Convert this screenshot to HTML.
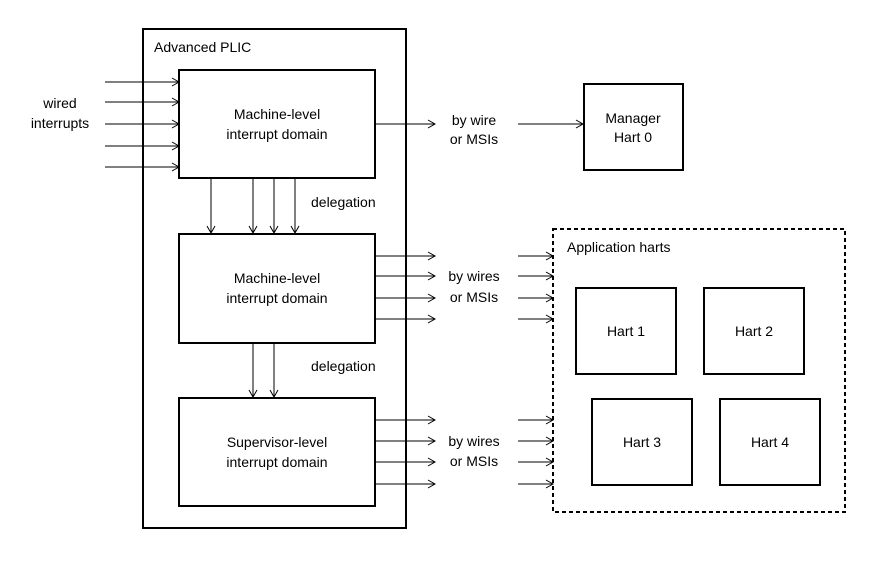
<!DOCTYPE html>
<html><head><style>body{margin:0;background:#fff}</style></head><body>
<svg width="872" height="558" viewBox="0 0 872 558" xmlns="http://www.w3.org/2000/svg" font-family="Liberation Sans, sans-serif" font-size="14">
<defs><marker id="a" markerWidth="10" markerHeight="10" refX="8" refY="5" orient="auto" markerUnits="userSpaceOnUse"><path d="M1,1 L8,5 L1,9" fill="none" stroke="#000" stroke-width="1"/></marker></defs>
<g fill="none" stroke="#000" stroke-width="2">
<rect x="143" y="29" width="263" height="499"/>
<rect x="179" y="70" width="196" height="108"/>
<rect x="179" y="234" width="196" height="109"/>
<rect x="179" y="398" width="196" height="108"/>
<rect x="584" y="84" width="99" height="86"/>
<rect x="576" y="288" width="100" height="86"/>
<rect x="704" y="288" width="100" height="86"/>
<rect x="592" y="399" width="100" height="86"/>
<rect x="720" y="399" width="100" height="86"/>
<rect x="553" y="229" width="292" height="283" stroke-dasharray="4,3"/>
</g>
<g stroke="#000" stroke-width="1" marker-end="url(#a)">
<line x1="105" y1="82" x2="179" y2="82"/><line x1="105" y1="102" x2="179" y2="102"/><line x1="105" y1="124" x2="179" y2="124"/><line x1="105" y1="146" x2="179" y2="146"/><line x1="105" y1="167" x2="179" y2="167"/>
<line x1="211" y1="178" x2="211" y2="233"/><line x1="253" y1="178" x2="253" y2="233"/><line x1="274" y1="178" x2="274" y2="233"/><line x1="295" y1="178" x2="295" y2="233"/>
<line x1="253" y1="343" x2="253" y2="397"/><line x1="274" y1="343" x2="274" y2="397"/>
<line x1="375" y1="124" x2="435" y2="124"/><line x1="518" y1="124" x2="583" y2="124"/>
<line x1="375" y1="256" x2="435" y2="256"/><line x1="375" y1="276" x2="435" y2="276"/><line x1="375" y1="298" x2="435" y2="298"/><line x1="375" y1="319" x2="435" y2="319"/>
<line x1="518" y1="256" x2="553" y2="256"/><line x1="518" y1="276" x2="553" y2="276"/><line x1="518" y1="298" x2="553" y2="298"/><line x1="518" y1="319" x2="553" y2="319"/>
<line x1="375" y1="420" x2="435" y2="420"/><line x1="375" y1="441" x2="435" y2="441"/><line x1="375" y1="462" x2="435" y2="462"/><line x1="375" y1="484" x2="435" y2="484"/>
<line x1="518" y1="420" x2="553" y2="420"/><line x1="518" y1="441" x2="553" y2="441"/><line x1="518" y1="462" x2="553" y2="462"/><line x1="518" y1="484" x2="553" y2="484"/>
</g>
<g fill="#000">
<text x="154" y="52">Advanced PLIC</text>
<text x="60" y="108" text-anchor="middle">wired</text><text x="60" y="128" text-anchor="middle">interrupts</text>
<g text-anchor="middle">
<text x="277" y="119">Machine-level</text><text x="277" y="139">interrupt domain</text>
<text x="277" y="283">Machine-level</text><text x="277" y="303">interrupt domain</text>
<text x="277" y="447">Supervisor-level</text><text x="277" y="467">interrupt domain</text>
<text x="633" y="123">Manager</text><text x="633" y="142">Hart 0</text>
<text x="626" y="336">Hart 1</text><text x="754" y="336">Hart 2</text>
<text x="642" y="447">Hart 3</text><text x="770" y="447">Hart 4</text>
<text x="474" y="125">by wire</text><text x="474" y="144">or MSIs</text>
<text x="474" y="281">by wires</text><text x="474" y="302">or MSIs</text>
<text x="474" y="446">by wires</text><text x="474" y="466">or MSIs</text>
</g>
<text x="311" y="207">delegation</text>
<text x="311" y="371">delegation</text>
<text x="567" y="252">Application harts</text>
</g>
</svg>
</body></html>
